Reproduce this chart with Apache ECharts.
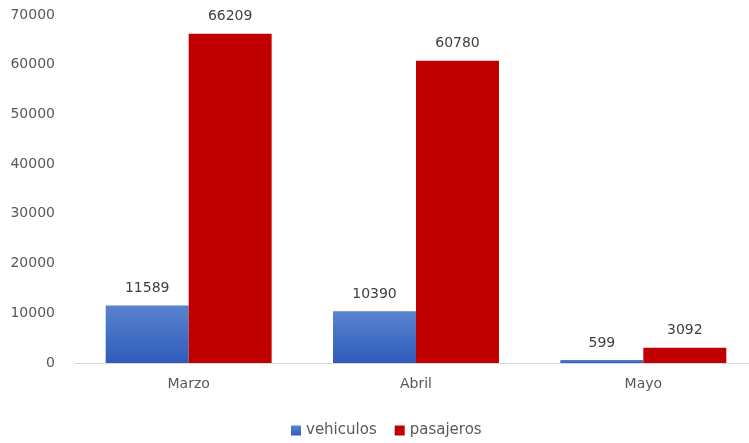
<!DOCTYPE html>
<html>
<head>
<meta charset="utf-8">
<script src="https://cdn.jsdelivr.net/npm/echarts@6/dist/echarts.min.js"></script>
<style>
  html, body { margin: 0; padding: 0; background: #fff; overflow: hidden; }
  /* plot area runs a few px past the right edge in the original */
  #chart { width: 757px; height: 443px; }
</style>
</head>
<body>
<div id="chart"></div>
<script>
const meses = ['Marzo', 'Abril', 'Mayo']
const vehiculos = [11589, 10390, 599]
const pasajeros = [66209, 60780, 3092]

const FONT = 'DejaVu Sans'
const chart = echarts.init(document.getElementById('chart'))

const labelStyle = {
  show: true,
  position: 'top',
  distance: 10,
  color: '#404040',
  fontSize: 14,
  fontFamily: FONT
}

chart.setOption({
  animation: false,
  textStyle: { fontFamily: FONT },
  grid: { left: 75, right: 0, top: 15, bottom: 80 },
  legend: {
    bottom: 0,
    left: 286,
    itemWidth: 10,
    itemHeight: 10,
    itemGap: 18,
    icon: 'rect',
    textStyle: { color: '#595959', fontSize: 15, fontFamily: FONT },
    data: ['vehiculos', 'pasajeros']
  },
  xAxis: {
    type: 'category',
    data: meses,
    axisLine: { lineStyle: { color: '#d9d9d9', width: 1 } },
    axisTick: { show: false },
    axisLabel: { color: '#595959', fontSize: 14, margin: 14, fontFamily: FONT }
  },
  yAxis: {
    type: 'value',
    min: 0,
    max: 70000,
    interval: 10000,
    axisLine: { show: false },
    axisTick: { show: false },
    splitLine: { show: false },
    axisLabel: {
      color: '#595959',
      fontSize: 14,
      margin: 20,
      fontFamily: FONT,
      formatter: v => String(v)
    }
  },
  series: [
    {
      name: 'vehiculos',
      type: 'bar',
      data: vehiculos,
      barGap: '0%',
      barCategoryGap: '27%',
      itemStyle: {
        color: new echarts.graphic.LinearGradient(0, 0, 0, 1, [
          { offset: 0, color: '#5a83cf' },
          { offset: 1, color: '#2e5cba' }
        ])
      },
      label: labelStyle
    },
    {
      name: 'pasajeros',
      type: 'bar',
      data: pasajeros,
      itemStyle: { color: '#c00000' },
      label: labelStyle
    }
  ]
})
</script>
</body>
</html>
